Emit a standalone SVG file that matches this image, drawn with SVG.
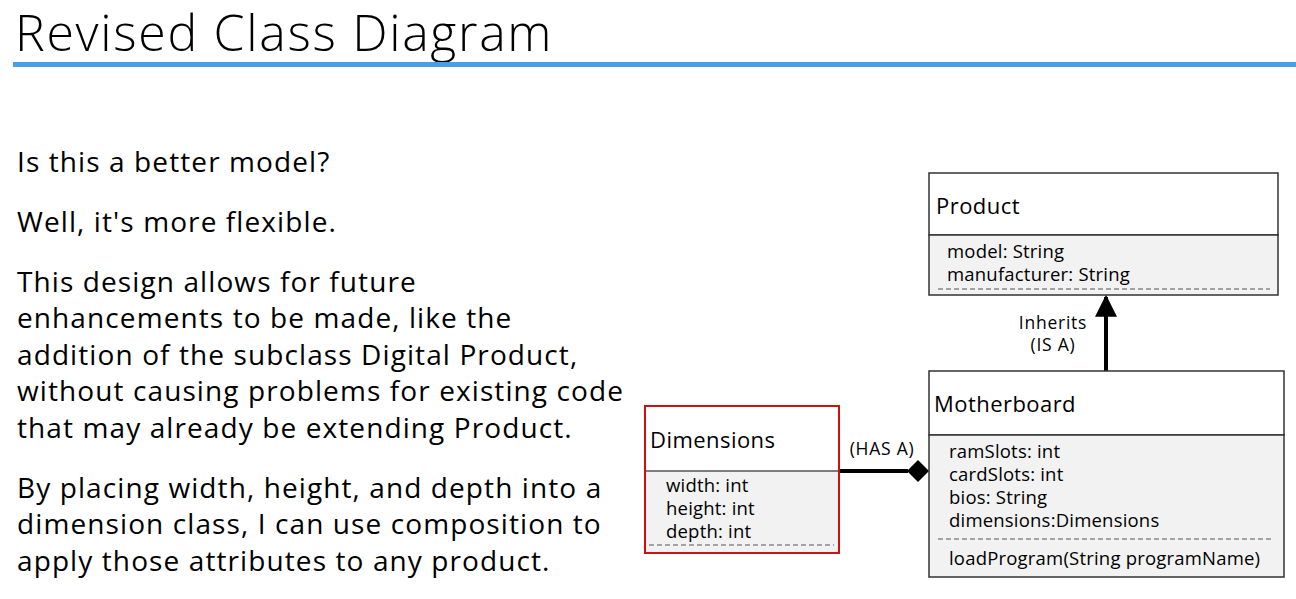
<svg xmlns="http://www.w3.org/2000/svg" width="1296" height="599" viewBox="0 0 1296 599">
  <style>
    .title { font-family: "Open Sans", "Liberation Sans", sans-serif; font-weight: 300; font-size: 50px; letter-spacing: 1.7px; fill: #000; }
    .body { font-family: "Open Sans", "Liberation Sans", sans-serif; font-size: 28px; letter-spacing: 1.1px; fill: #000; }
    .cls { font-family: "Open Sans", "Liberation Sans", sans-serif; font-size: 22px; letter-spacing: 0.45px; fill: #000; }
    .attr { font-family: "Open Sans", "Liberation Sans", sans-serif; font-size: 18.5px; letter-spacing: 0.2px; fill: #000; }
    .lbl { font-family: "Open Sans", "Liberation Sans", sans-serif; font-size: 17.5px; letter-spacing: 0.75px; fill: #000; }
    .head { fill: #fff; stroke: #333; stroke-width: 1.5; }
    .body-box { fill: #f2f2f2; stroke: #333; stroke-width: 1.5; }
    .sep { stroke: #555; stroke-width: 1; stroke-dasharray: 5 3; }
  </style>
  <defs>
    <marker id="tri" viewBox="0 0 10 10" refX="9" refY="5" markerWidth="5.5" markerHeight="5.5" orient="auto">
      <path d="M0,0 L10,5 L0,10 z" fill="#000"/>
    </marker>
  </defs>
  <rect width="1296" height="599" fill="#fff"/>

  <text class="title" x="15" y="51">Revised Class Diagram</text>
  <rect x="13" y="62" width="1283" height="5" fill="#4a9ee6"/>

  <g id="text-block">
    <text class="body" x="17" y="172">Is this a better model?</text>
    <text class="body" x="17" y="232">Well, it's more flexible.</text>
    <text class="body" x="17" y="292">This design allows for future</text>
    <text class="body" x="17" y="328">enhancements to be made, like the</text>
    <text class="body" x="17" y="365">addition of the subclass Digital Product,</text>
    <text class="body" x="17" y="401">without causing problems for existing code</text>
    <text class="body" x="17" y="438">that may already be extending Product.</text>
    <text class="body" x="17" y="498">By placing width, height, and depth into a</text>
    <text class="body" x="17" y="534">dimension class, I can use composition to</text>
    <text class="body" x="17" y="571">apply those attributes to any product.</text>
  </g>

  <g id="connectors">
    <line x1="1106" y1="371" x2="1106" y2="297" stroke="#000" stroke-width="4" marker-end="url(#tri)"/>
    <line x1="839" y1="471" x2="908" y2="471" stroke="#000" stroke-width="4"/>
    <path d="M907,471 L918,460 L929,471 L918,482 z" fill="#000"/>
    <text class="lbl" x="1053" y="329" text-anchor="middle">Inherits</text>
    <text class="lbl" x="1053" y="351" text-anchor="middle">(IS A)</text>
    <text class="lbl" x="882" y="455" text-anchor="middle">(HAS A)</text>
  </g>

  <g id="product">
    <rect class="head" x="929" y="173" width="349" height="62"/>
    <rect class="body-box" x="929" y="235" width="349" height="60"/>
    <text class="cls" x="936" y="214">Product</text>
    <text class="attr" x="947" y="258">model: String</text>
    <text class="attr" x="947" y="281">manufacturer: String</text>
    <line class="sep" x1="938" y1="289" x2="1270" y2="289"/>
  </g>

  <g id="motherboard">
    <rect class="head" x="929" y="371" width="355" height="64"/>
    <rect class="body-box" x="929" y="435" width="355" height="142"/>
    <text class="cls" x="934" y="412">Motherboard</text>
    <text class="attr" x="949" y="458">ramSlots: int</text>
    <text class="attr" x="949" y="481">cardSlots: int</text>
    <text class="attr" x="949" y="504">bios: String</text>
    <text class="attr" x="949" y="527">dimensions:Dimensions</text>
    <line class="sep" x1="938" y1="539" x2="1274" y2="539"/>
    <text class="attr" x="949" y="565">loadProgram(String programName)</text>
  </g>

  <g id="dimensions">
    <rect x="645" y="406" width="194" height="65" fill="#fff"/>
    <rect x="645" y="471" width="194" height="82" fill="#f2f2f2"/>
    <line x1="645" y1="471" x2="839" y2="471" stroke="#555" stroke-width="1.5"/>
    <rect x="645" y="406" width="194" height="147" fill="none" stroke="#d01010" stroke-width="2"/>
    <text class="cls" x="650" y="448">Dimensions</text>
    <text class="attr" x="666" y="492">width: int</text>
    <text class="attr" x="666" y="515">height: int</text>
    <text class="attr" x="666" y="538">depth: int</text>
    <line class="sep" x1="649" y1="545" x2="834" y2="545"/>
  </g>
</svg>
